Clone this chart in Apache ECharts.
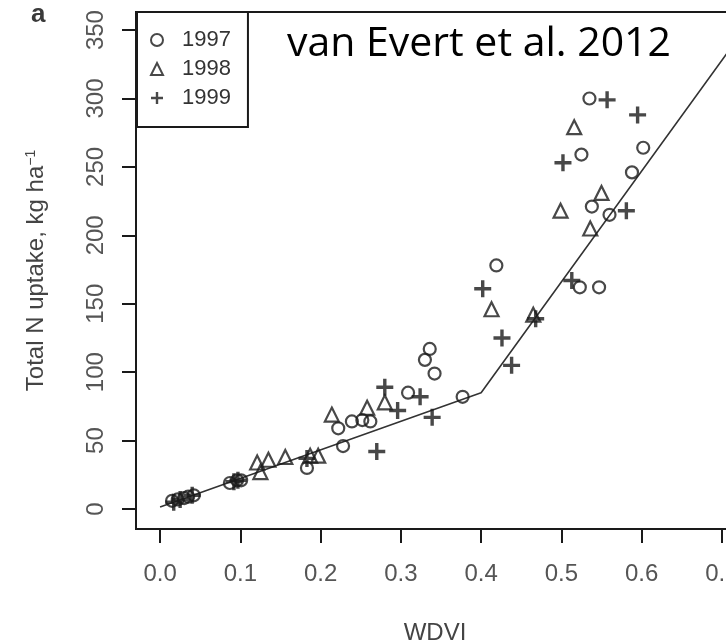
<!DOCTYPE html>
<html>
<head>
<meta charset="utf-8">
<script src="https://cdn.jsdelivr.net/npm/echarts@6/dist/echarts.min.js"></script>
<style>
html,body{margin:0;padding:0;background:#fff;}
#chart{width:726px;height:644px;}
</style>
</head>
<body>
<div id="chart"></div>
<script>
// ---- data (WDVI, total N uptake kg/ha) ----
var years = ['1997', '1998', '1999'];
var data1997 = [
  [0.015,6],[0.022,7],[0.030,8],[0.035,9],[0.042,10],[0.087,19],[0.096,21],[0.101,21],
  [0.183,30],[0.222,59],[0.228,46],[0.239,64],[0.252,65],[0.262,64],
  [0.309,85],[0.330,109],[0.336,117],[0.342,99],[0.377,82],
  [0.419,178],[0.523,162],[0.547,162],[0.525,259],[0.535,300],[0.538,221],
  [0.560,215],[0.588,246],[0.602,264]
];
var data1998 = [
  [0.121,34],[0.125,27],[0.135,36],[0.156,38],[0.187,39],[0.197,39],
  [0.214,69],[0.258,74],[0.280,78],[0.413,146],[0.465,142],[0.499,218],
  [0.516,279],[0.536,205],[0.550,231]
];
var data1999 = [
  [0.017,5],[0.025,7],[0.040,10],[0.092,20],[0.097,21],[0.183,37],[0.270,42],[0.280,89],
  [0.296,72],[0.324,82],[0.339,67],[0.402,161],[0.426,125],[0.438,105],
  [0.468,139],[0.502,253],[0.513,167],[0.557,299],[0.581,218],[0.595,288]
];
var fitLine = [[0.0,1.5],[0.40,85],[0.71,336]];
var xTicks = [0,0.1,0.2,0.3,0.4,0.5,0.6,0.7];
var yTicks = [0,50,100,150,200,250,300,350];

var plusPath = 'path://M4,0H6V4H10V6H6V10H4V6H0V4H4Z';
var ink = '#1a1a1a';
var tickFont = 'Liberation Sans, Arial, Helvetica, sans-serif';

var chart = echarts.init(document.getElementById('chart'), null, {renderer:'canvas'});
chart.setOption({
  animation: false,
  backgroundColor: '#fff',
  title: [
    {text: 'a', left: 31, top: 2, padding: 0,
     textStyle: {fontFamily: tickFont, fontSize: 26, fontWeight: 'bold', color: '#3a3a3a'}},
    {text: 'van Evert et al. 2012', left: 287, top: 24, padding: 0,
     textStyle: {fontFamily: 'Open Sans, sans-serif', fontSize: 41, fontWeight: 'normal', color: '#000'}}
  ],
  legend: {
    orient: 'vertical',
    left: 137, top: 12,
    padding: [17, 17, 18, 13],
    itemWidth: 12, itemHeight: 12, itemGap: 7,
    borderColor: ink, borderWidth: 2, backgroundColor: '#fff',
    textStyle: {fontFamily: tickFont, fontSize: 22, color: '#333', lineHeight: 22, padding: [0,0,0,14]},
    data: [
      {name: years[0], icon: 'circle'},
      {name: years[1], icon: 'triangle'},
      {name: years[2], icon: plusPath}
    ]
  },
  grid: {
    left: 136, right: -36, top: 12, bottom: 115,
    outerBoundsMode: 'none', containLabel: false,
    show: true, borderColor: ink, borderWidth: 2, backgroundColor: 'transparent'
  },
  xAxis: {
    type: 'value', min: -0.03, max: 0.75,
    name: 'WDVI', nameLocation: 'middle', nameGap: 92,
    nameTextStyle: {fontFamily: tickFont, fontSize: 24, color: '#444', padding: [0, 28, 0, 0]},
    splitLine: {show: false},
    axisLine: {show: true, onZero: false, lineStyle: {color: ink, width: 2}},
    axisTick: {show: true, length: 14, lineStyle: {color: ink, width: 2}, customValues: xTicks},
    axisLabel: {fontFamily: tickFont, fontSize: 24, color: '#555', margin: 33,
      customValues: xTicks, formatter: function(v){ return v.toFixed(1); }}
  },
  yAxis: {
    type: 'value', min: -14.6, max: 363.2,
    name: 'Total N uptake, kg ha{sup|−1}', nameLocation: 'middle', nameGap: 88,
    nameTextStyle: {fontFamily: tickFont, fontSize: 24, color: '#444',
      rich: {sup: {fontFamily: tickFont, fontSize: 14, color: '#444', verticalAlign: 'top', padding: [0,0,10,0]}}},
    splitLine: {show: false},
    axisLine: {show: true, onZero: false, lineStyle: {color: ink, width: 2}},
    axisTick: {show: true, length: 14, lineStyle: {color: ink, width: 2}, customValues: yTicks},
    axisLabel: {fontFamily: tickFont, fontSize: 24, color: '#555', margin: 28, rotate: 90,
      customValues: yTicks}
  },
  series: [
    {name: 'fit', type: 'line', data: fitLine, symbol: 'none', silent: true,
     lineStyle: {color: '#333', width: 1.6}, z: 1},
    {name: years[0], type: 'scatter', data: data1997, symbol: 'circle', symbolSize: 12,
     itemStyle: {color: 'rgba(0,0,0,0)', borderColor: ink, borderWidth: 2.2}, z: 3},
    {name: years[1], type: 'scatter', data: data1998, symbol: 'triangle', symbolSize: 14,
     itemStyle: {color: 'rgba(0,0,0,0)', borderColor: ink, borderWidth: 2.2}, z: 3},
    {name: years[2], type: 'scatter', data: data1999, symbol: plusPath, symbolSize: 17,
     itemStyle: {color: ink, borderWidth: 0}, z: 3}
  ]
});
</script>
</body>
</html>
